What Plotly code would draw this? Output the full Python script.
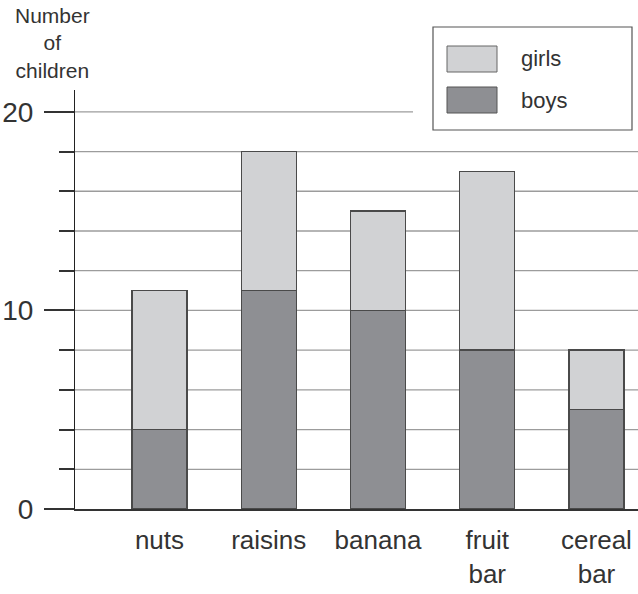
import plotly.graph_objects as go

categories = ["nuts", "raisins", "banana", "fruit bar", "cereal bar"]
category_labels = ["nuts", "raisins", "banana", "fruit<br>bar", "cereal<br>bar"]
boys = [4, 11, 10, 8, 5]
girls = [7, 7, 5, 9, 3]
series_names = ["girls", "boys"]
y_major = [0, 10, 20]
y_grid = [2, 4, 6, 8, 10, 12, 14, 16, 18, 20]

W, H = 638, 594
L, R, T, B = 75, 0, 90, 85
PW, PH = W - L - R, H - T - B

def px_x(p):
    return (p - L) / PW

def px_y(p):
    return (H - B - p) / PH

GIRL_C = "#d1d2d4"
BOY_C = "#8e8f93"
EDGE = "#4a4a4a"
NARROW = "Liberation Sans Narrow, Arial Narrow, Liberation Sans, Arial"
REG = "Liberation Sans, Arial, sans-serif"

fig = go.Figure()
fig.add_trace(go.Bar(x=categories, y=boys, name=series_names[1], width=0.503,
                     marker=dict(color=BOY_C, line=dict(color=EDGE, width=1.3))))
fig.add_trace(go.Bar(x=categories, y=girls, name=series_names[0], width=0.503,
                     marker=dict(color=GIRL_C, line=dict(color=EDGE, width=1.3))))

shapes = []
for v in y_grid:
    x1 = px_x(413) if v == 20 else 1
    shapes.append(dict(type="line", xref="paper", yref="y", x0=0, x1=x1, y0=v, y1=v,
                       line=dict(color="#9c9c9c", width=1.3), layer="below"))
# legend box
shapes.append(dict(type="rect", xref="paper", yref="paper",
                   x0=px_x(433), x1=px_x(632), y0=px_y(130), y1=px_y(27),
                   line=dict(color="#555555", width=1.2), fillcolor="white"))
shapes.append(dict(type="rect", xref="paper", yref="paper",
                   x0=px_x(447), x1=px_x(497), y0=px_y(72), y1=px_y(46),
                   line=dict(color="#666666", width=1), fillcolor=GIRL_C))
shapes.append(dict(type="rect", xref="paper", yref="paper",
                   x0=px_x(447), x1=px_x(497), y0=px_y(113), y1=px_y(87),
                   line=dict(color="#555555", width=1), fillcolor=BOY_C))

annotations = [
    dict(text="Number<br>of<br>children", xref="paper", yref="paper",
         x=px_x(52), y=px_y(2), xanchor="center", yanchor="top", showarrow=False,
         font=dict(family=REG, size=21, color="#333333"), align="center"),
    dict(text=series_names[0], xref="paper", yref="paper", x=px_x(519), y=px_y(59),
         xanchor="left", yanchor="middle", showarrow=False,
         font=dict(family=REG, size=22, color="#333333")),
    dict(text=series_names[1], xref="paper", yref="paper", x=px_x(519), y=px_y(100),
         xanchor="left", yanchor="middle", showarrow=False,
         font=dict(family=REG, size=22, color="#333333")),
]

fig.update_layout(
    width=W, height=H, barmode="stack", showlegend=False,
    margin=dict(l=L, r=R, t=T, b=B, pad=0, autoexpand=False),
    plot_bgcolor="white", paper_bgcolor="white",
    shapes=shapes, annotations=annotations,
    xaxis=dict(type="category", range=[-0.773, 4.38], showgrid=False, automargin=False,
               tickvals=categories, ticktext=category_labels,
               showline=True, linecolor="#333333", linewidth=1.5,
               ticks="", ticklabelstandoff=7,
               tickfont=dict(family=NARROW, size=26, color="#333333")),
    yaxis=dict(range=[0, 21.1], showgrid=False, zeroline=False, automargin=False,
               tickvals=y_major, ticks="outside", ticklen=30, tickwidth=1.5,
               tickcolor="#333333",
               showline=True, linecolor="#222222", linewidth=1.2,
               tickfont=dict(family=NARROW, size=28, color="#333333"),
               ticklabelstandoff=5,
               minor=dict(dtick=2, ticks="outside", ticklen=15, tickwidth=1.5,
                          tickcolor="#333333", showgrid=False)),
)

fig.write_html("out.html", config={"displayModeBar": False},
               post_script="document.body.style.margin='0';document.body.style.padding='0';document.body.style.overflow='hidden';")
